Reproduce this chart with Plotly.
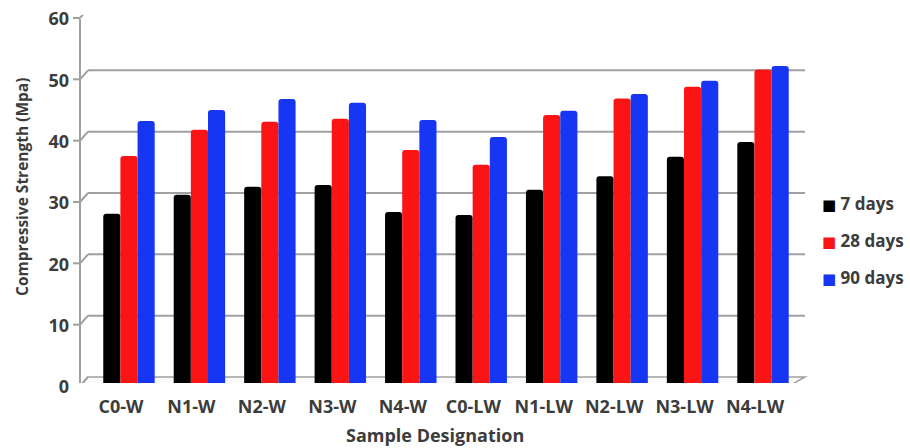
import plotly.graph_objects as go

# Sample designations on the horizontal axis
samples = ["C0-W", "N1-W", "N2-W", "N3-W", "N4-W",
           "C0-LW", "N1-LW", "N2-LW", "N3-LW", "N4-LW"]

# Compressive strength (MPa) at each curing age
days_7 = [27.6, 30.7, 32.0, 32.3, 27.9, 27.4, 31.5, 33.7, 36.9, 39.3]
days_28 = [37.0, 41.3, 42.6, 43.1, 38.0, 35.6, 43.7, 46.4, 48.3, 51.1]
days_90 = [42.7, 44.5, 46.3, 45.7, 42.9, 40.1, 44.4, 47.1, 49.3, 51.7]

series_names = ["7 days", "28 days", "90 days"]
series_colors = ["#000000", "#fb1414", "#1636f4"]

y_ticks = [0, 10, 20, 30, 40, 50, 60]

TEXT = "#3c3c3c"
GRID = "#a0a0a0"
FONT = "Open Sans"

fig = go.Figure()
for name, vals, col in zip(series_names, [days_7, days_28, days_90], series_colors):
    fig.add_trace(go.Bar(
        x=samples, y=vals, name=name, showlegend=False,
        marker=dict(color=col, line=dict(width=0), cornerradius=3),
    ))

# plot area geometry in pixels (used for the pseudo-3D wall and floor)
L, R, T, B = 85, 799, 15, 383
W, H = R - L, B - T


def px(p):
    return (p - L) / W


def py(p):
    return (B - p) / H


FRONT_DY, BACK_DY = -3, 6           # vertical depth offsets (pixels, up positive)
FRONT_LX, BACK_LX = px(80), px(88)  # left wall front/back edges
FRONT_RX, BACK_RX = px(789), px(805)

shapes = []
# floor
shapes.append(dict(
    type="path", xref="paper", yref="y", ysizemode="pixel", yanchor=0,
    path=f"M {FRONT_LX},{FRONT_DY} L {FRONT_RX},{FRONT_DY} L {BACK_RX},{BACK_DY} L {BACK_LX},{BACK_DY} Z",
    fillcolor="#fafafa", line=dict(color=GRID, width=1.5), layer="below",
))
for v in y_ticks:
    # back wall gridline
    if v > 0:
        shapes.append(dict(
            type="line", xref="paper", yref="y", ysizemode="pixel", yanchor=v,
            x0=BACK_LX, x1=BACK_RX, y0=BACK_DY, y1=BACK_DY,
            line=dict(color=GRID, width=2), layer="below",
        ))
    # side wall diagonal
    shapes.append(dict(
        type="line", xref="paper", yref="y", ysizemode="pixel", yanchor=v,
        x0=FRONT_LX, x1=BACK_LX, y0=FRONT_DY, y1=BACK_DY,
        line=dict(color=GRID, width=2), layer="below",
    ))
    # tick mark on front axis
    shapes.append(dict(
        type="line", xref="paper", yref="y", ysizemode="pixel", yanchor=v,
        x0=px(73), x1=FRONT_LX, y0=FRONT_DY, y1=FRONT_DY,
        line=dict(color=GRID, width=2),
    ))
# front vertical axis
shapes.append(dict(
    type="line", xref="paper", yref="y", ysizemode="pixel", yanchor=0,
    x0=FRONT_LX, x1=FRONT_LX, y0=FRONT_DY, y1=FRONT_DY + 367,
    line=dict(color=GRID, width=2),
))
# category boundary ticks below the floor
for i in range(len(samples) + 1):
    shapes.append(dict(
        type="line", xref="x", yref="y", xsizemode="pixel", ysizemode="pixel",
        xanchor=i - 0.5, yanchor=0, x0=-8, x1=-8, y0=FRONT_DY, y1=FRONT_DY - 5,
        line=dict(color=GRID, width=1.5),
    ))

annotations = []
# key for the three curing ages
for k, (name, col) in enumerate(zip(series_names, series_colors)):
    annotations.append(dict(
        xref="paper", yref="paper", x=px(820), y=py(203 + 37 * k),
        xanchor="left", yanchor="middle", showarrow=False,
        text=(f"<span style='color:{col};font-family:DejaVu Sans;font-size:15px'>■</span>"
              f" {name}"),
        font=dict(family=FONT, size=17, color=TEXT, weight="bold"),
    ))
# axis titles
annotations.append(dict(
    xref="paper", yref="paper", x=px(435), y=py(435),
    xanchor="center", yanchor="middle", showarrow=False,
    text="Sample Designation",
    font=dict(family=FONT, size=18, color=TEXT, weight="bold"),
))
annotations.append(dict(
    xref="paper", yref="paper", x=px(22), y=py(187),
    xanchor="center", yanchor="middle", showarrow=False, textangle=-90,
    text="Compressive Strength (Mpa)",
    font=dict(family=FONT, size=15.5, color=TEXT, weight="bold"),
))

fig.update_layout(
    width=910, height=448,
    margin=dict(l=L, r=910 - R, t=T, b=448 - B, autoexpand=False),
    paper_bgcolor="white", plot_bgcolor="white",
    bargap=0.27, bargroupgap=0,
    font=dict(family=FONT, color=TEXT),
    shapes=shapes,
    annotations=annotations,
    showlegend=False,
    xaxis=dict(
        automargin=False,
        showgrid=False, showline=False, zeroline=False, ticks="",
        tickfont=dict(family=FONT, size=18, color=TEXT, weight="bold"),
        ticklabelshift=-8, ticklabelstandoff=11,
    ),
    yaxis=dict(
        automargin=False,
        range=[0, 60], tickvals=y_ticks,
        showgrid=False, showline=False, zeroline=False, ticks="",
        tickfont=dict(family=FONT, size=18, color=TEXT, weight="bold"),
        ticklabelstandoff=15, ticklabelshift=4,
    ),
)

fig.write_html("out.html")
